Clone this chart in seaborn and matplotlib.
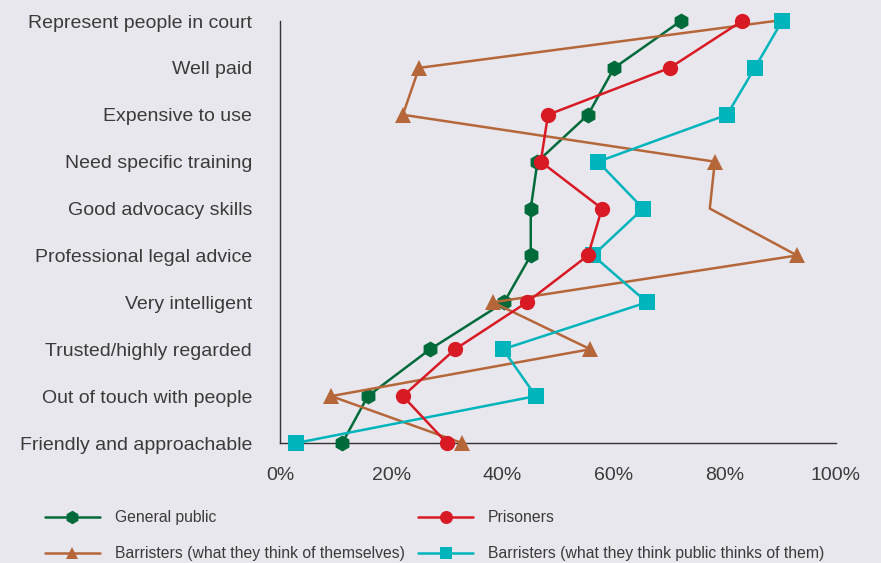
"""
plot.py

Line chart of how barristers are perceived, by respondent group.
"""

import pandas as pd
import seaborn as sns
import matplotlib.pyplot as plt

# Attributes, top to bottom
attributes = [
    "Represent people in court",
    "Well paid",
    "Expensive to use",
    "Need specific training",
    "Good advocacy skills",
    "Professional legal advice",
    "Very intelligent",
    "Trusted/highly regarded",
    "Out of touch with people",
    "Friendly and approachable",
]

# Percentages
general_public = [72.1, 60.1, 55.4, 46.3, 45.1, 45.1, 40.3, 27.0, 15.8, 11.2]
prisoners = [83.1, 70.1, 48.2, 46.9, 57.9, 55.4, 44.4, 31.5, 22.1, 30.0]
barristers_self = [89.0, 25.0, 22.1, 78.2, 77.3, 93.0, 38.3, 55.8, 9.2, 32.7]
barristers_public = [90.3, 85.4, 80.4, 57.2, 65.3, 56.3, 66.0, 40.1, 46.0, 2.9]

x_ticks = [0, 20, 40, 60, 80, 100]
x_tick_labels = ["0%", "20%", "40%", "60%", "80%", "100%"]

BG = "#e9e7ee"
TEXT = "#3a3a3a"

sns.set_theme(style="white")
plt.rcParams["font.family"] = ["Liberation Sans", "DejaVu Sans"]

fig = plt.figure(figsize=(8.81, 5.63), dpi=100, facecolor=BG)
ax = fig.add_axes([280 / 881, 1 - 443 / 563, (836 - 280) / 881, (443 - 21) / 563])
ax.set_facecolor(BG)

pos = list(range(len(attributes)))

# (label, values, colour, marker, size, zorder, markevery)
series = [
    ("General public", general_public, "#006b3a", "h", 11.5, 3, None),
    ("Barristers (what they think of themselves)", barristers_self, "#b5673a", "^", 11, 4,
     [1, 2, 3, 5, 6, 7, 8, 9]),
    ("Prisoners", prisoners, "#d81a24", "o", 11, 6, None),
    ("Barristers (what they think public thinks of them)", barristers_public, "#00b4bc", "s", 11, 5, None),
]

for label, vals, color, marker, ms, z, every in series:
    df = pd.DataFrame({"value": vals, "pos": pos})
    sns.lineplot(
        data=df, x="value", y="pos", ax=ax, sort=False, estimator=None, orient="y",
        color=color, marker=marker, markersize=ms, markeredgewidth=0, linewidth=1.8,
        label=label, zorder=z, clip_on=False, markevery=every,
    )

ax.set_xlim(0, 100)
ax.set_ylim(len(attributes) - 1, 0)
ax.set_yticks(pos)
ax.set_yticklabels(attributes)
ax.set_xticks(x_ticks)
ax.set_xticklabels(x_tick_labels)
ax.set_xlabel("")
ax.set_ylabel("")

for side in ["top", "right"]:
    ax.spines[side].set_visible(False)
for side in ["left", "bottom"]:
    ax.spines[side].set_color("#333333")
    ax.spines[side].set_linewidth(1.0)

ax.tick_params(axis="both", which="both", direction="out", length=9, width=1.0,
               color="#333333", labelcolor=TEXT, labelsize=14)
ax.tick_params(axis="y", pad=11)
ax.tick_params(axis="x", pad=8)

ax.get_legend().remove()
handles, labels = ax.get_legend_handles_labels()
fig.legend(
    handles, labels, ncol=2, loc="upper left", bbox_to_anchor=(45 / 881, 1 - 510 / 563),
    frameon=False, fontsize=11.3, labelcolor=TEXT, handlelength=3.5, handletextpad=0.95,
    columnspacing=0.85, labelspacing=1.35, borderpad=0, borderaxespad=0, markerscale=0.85,
)

fig.savefig("out.png", dpi=100, facecolor=BG)
